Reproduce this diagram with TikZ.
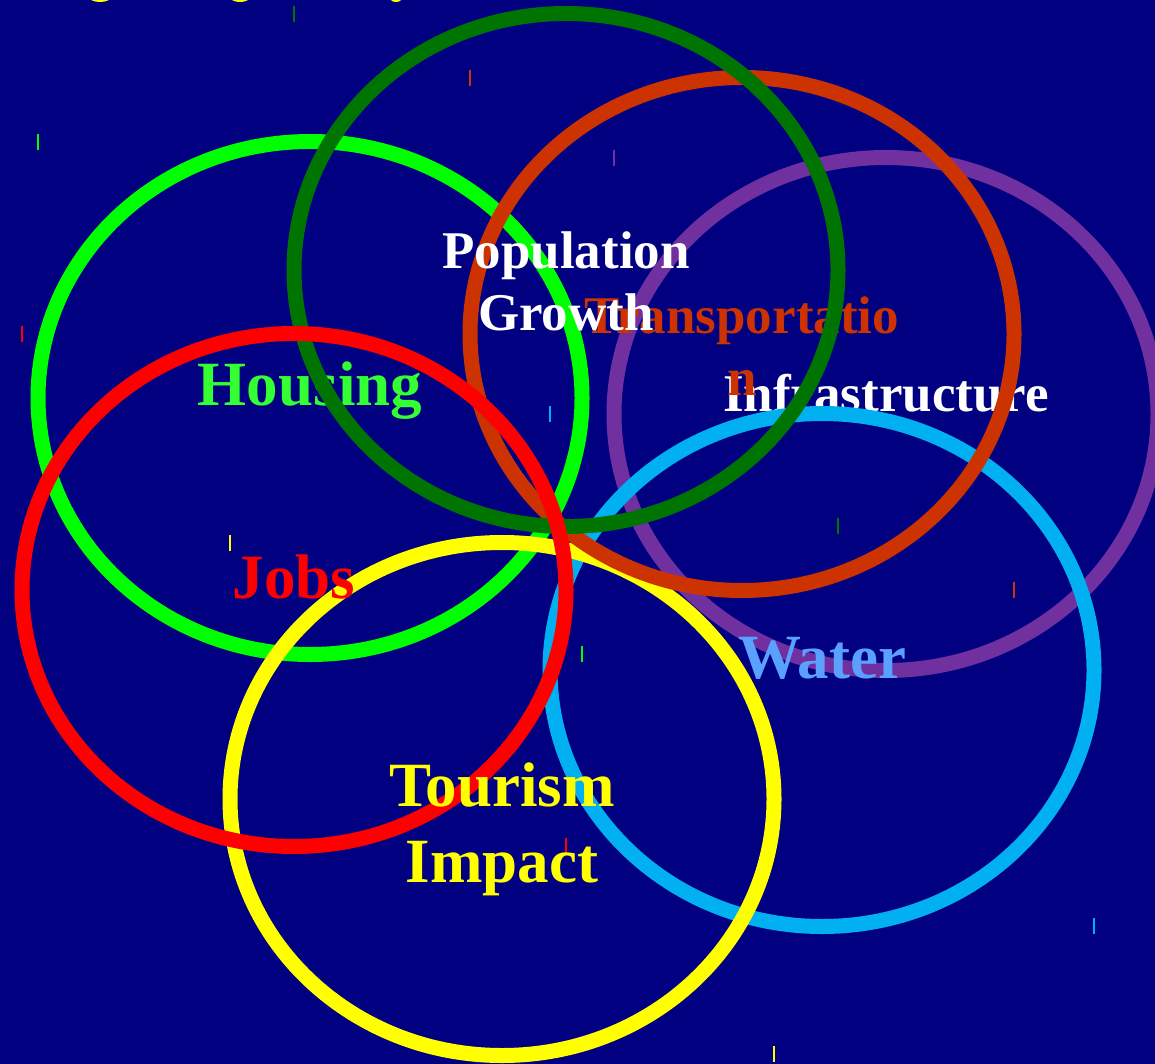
\documentclass[tikz,border=0pt]{standalone}
\usepackage{fontspec}
\setmainfont{Liberation Serif}
\definecolor{bgnavy}{HTML}{000080}
\definecolor{ringgreen}{HTML}{00FF00}
\definecolor{ringdark}{HTML}{007400}
\definecolor{ringorange}{HTML}{CC3300}
\definecolor{ringpurple}{HTML}{7030A0}
\definecolor{ringcyan}{HTML}{00B0F0}
\definecolor{ringred}{HTML}{FF0000}
\definecolor{ringyellow}{HTML}{FFFF00}
\definecolor{txtgreen}{HTML}{33FF33}
\definecolor{txtwater}{HTML}{5AA0FF}
\tikzset{
  ring/.style={line width=15pt, draw=#1},
  tick/.style={line width=1.3pt, draw=#1},
  biglabel/.style={font=\fontsize{63}{76}\selectfont\bfseries\color{#1}, text=#1, inner sep=0pt, anchor=base, align=center},
  midlabel/.style={font=\fontsize{53}{62}\selectfont\bfseries\color{#1}, text=#1, inner sep=0pt, anchor=base, align=center},
}
\begin{document}
\begin{tikzpicture}[x=1pt,y=-1pt]
\useasboundingbox (0,0) rectangle (1155,1064);
\fill[bgnavy] (0,0) rectangle (1155,1064);
\begin{scope}
\clip (0,0) rectangle (1155,1064);
% fragments of a cut-off title
\fill[ringyellow] (100,-3) ellipse [x radius=11, y radius=5];
\fill[ringyellow] (240,-3) ellipse [x radius=10, y radius=5];
\fill[ringyellow] (396,-2) ellipse [x radius=6, y radius=4];

% Housing
\draw[ring=ringgreen] (310,398) ellipse [x radius=272, y radius=256.5];
\node[biglabel=txtgreen] (housing) at (310,405) {Housing};
\draw[tick=ringgreen] (38,134) -- (38,150);
\draw[tick=ringgreen] (582,646) -- (582,662);

% Infrastructure
\draw[ring=ringpurple] (886,414) ellipse [x radius=272, y radius=256.5];
\node[midlabel=white] (infra) at (886,411) {Infrastructure};
\draw[tick=ringpurple] (614,150) -- (614,166);

% Water
\draw[ring=ringcyan] (822,670) ellipse [x radius=272, y radius=256.5];
\node[biglabel=txtwater] (water) at (822,678) {Water};
\draw[tick=ringcyan] (550,406) -- (550,422);
\draw[tick=ringcyan] (1094,918) -- (1094,934);

% Tourism Impact ring
\draw[ring=ringyellow] (502,799) ellipse [x radius=272, y radius=256.5];
\draw[tick=ringyellow] (230,535) -- (230,551);
\draw[tick=ringyellow] (774,1046) -- (774,1062);

% Transportation
\draw[ring=ringorange] (742,334) ellipse [x radius=272, y radius=256.5];
\node[midlabel=ringorange] (transport) at (742,395) {Transportatio\\n};
\draw[tick=ringorange] (470,70) -- (470,86);
\draw[tick=ringorange] (1014,582) -- (1014,598);

% Population Growth
\draw[ring=ringdark] (566,270) ellipse [x radius=272, y radius=256.5];
\node[midlabel=white] (population) at (566,330) {Population\\Growth};
\draw[tick=ringdark] (294,6) -- (294,22);
\draw[tick=ringdark] (838,518) -- (838,534);

% Jobs
\draw[ring=ringred] (294,590) ellipse [x radius=272, y radius=256.5];
\node[biglabel=ringred] (jobs) at (294,598) {Jobs};
\draw[tick=ringred] (22,326) -- (22,342);
\draw[tick=ringred] (566,838) -- (566,854);

% Tourism Impact label
\node[biglabel=ringyellow] (tourism) at (502,882) {Tourism\\Impact};
\end{scope}
\end{tikzpicture}
\end{document}
